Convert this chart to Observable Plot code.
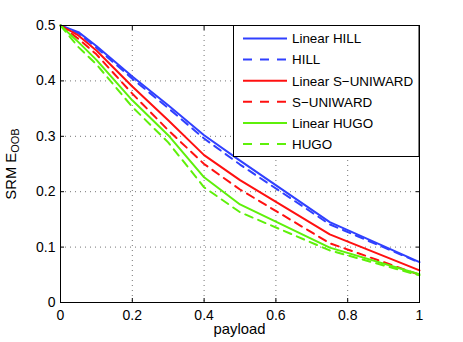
<!DOCTYPE html>
<html>
<head>
<meta charset="utf-8">
<script src="https://cdn.jsdelivr.net/npm/d3@7"></script>
<script src="https://cdn.jsdelivr.net/npm/@observablehq/plot@0.6"></script>
<style>
  html, body { margin: 0; padding: 0; background: white; }
  #chart svg { display: block; }
</style>
</head>
<body>
<div id="chart"></div>
<script>
const payload = [0, 0.05, 0.1, 0.2, 0.3, 0.4, 0.5, 0.75, 1];
const linearHILL     = [0.5, 0.488, 0.463, 0.408, 0.356, 0.302, 0.256, 0.145, 0.073];
const HILL           = [0.5, 0.486, 0.460, 0.404, 0.351, 0.296, 0.249, 0.141, 0.072];
const linearSUNIWARD = [0.5, 0.482, 0.455, 0.390, 0.329, 0.266, 0.221, 0.123, 0.058];
const SUNIWARD       = [0.5, 0.476, 0.448, 0.377, 0.311, 0.250, 0.204, 0.107, 0.050];
const linearHUGO     = [0.5, 0.470, 0.438, 0.365, 0.302, 0.226, 0.177, 0.099, 0.051];
const HUGO           = [0.5, 0.461, 0.430, 0.353, 0.289, 0.208, 0.163, 0.094, 0.049];

const seriesNames = ["Linear HILL", "HILL", "Linear S\u2212UNIWARD", "S\u2212UNIWARD", "Linear HUGO", "HUGO"];
const seriesValues = [linearHILL, HILL, linearSUNIWARD, SUNIWARD, linearHUGO, HUGO];
const seriesColors = ["#3040ff", "#3040ff", "#ff1010", "#ff1010", "#5ef00a", "#5ef00a"];
const seriesDashed = [false, true, false, true, false, true];

const xTicks = [0, 0.2, 0.4, 0.6, 0.8, 1];
const yTicks = [0, 0.1, 0.2, 0.3, 0.4, 0.5];
const xLabel = "payload";

const rows = [];
seriesNames.forEach((name, i) => {
  payload.forEach((p, j) => rows.push({series: name, x: p, y: seriesValues[i][j]}));
});

const font = "'Liberation Sans', Arial, Helvetica, sans-serif";
const dash = "8,6";

const marks = [
  Plot.gridX(xTicks, {stroke: "#000", strokeOpacity: 0.55, strokeDasharray: "1,4"}),
  Plot.gridY(yTicks, {stroke: "#000", strokeOpacity: 0.55, strokeDasharray: "1,4"})
];
seriesNames.forEach((name, i) => {
  marks.push(Plot.line(rows.filter(r => r.series === name), {
    x: "x", y: "y", stroke: seriesColors[i], strokeWidth: 2,
    strokeDasharray: seriesDashed[i] ? dash : null
  }));
});
marks.push(
  Plot.frame({stroke: "#000", strokeWidth: 1}),
  Plot.axisX(xTicks, {anchor: "bottom", tickSize: -4, tickPadding: 12, tickFormat: d => String(d), label: null, fontSize: 14}),
  Plot.axisX(xTicks, {anchor: "top", tickSize: -4, tickFormat: () => "", label: null}),
  Plot.axisY(yTicks, {anchor: "left", tickSize: -4, tickPadding: 9, tickFormat: d => String(d), label: null, fontSize: 14}),
  Plot.axisY(yTicks, {anchor: "right", tickSize: -4, tickFormat: () => "", label: null})
);

const chart = Plot.plot({
  width: 463, height: 342,
  marginLeft: 60, marginRight: 44, marginTop: 25, marginBottom: 40,
  style: {fontFamily: font, fontSize: "13px", background: "white", color: "#000"},
  x: {domain: [0, 1]},
  y: {domain: [0, 0.5]},
  marks
});

const svg = d3.select(chart);

// x label
svg.append("text")
  .attr("x", 239.5).attr("y", 334)
  .attr("text-anchor", "middle")
  .attr("font-family", font).attr("font-size", 14.8).attr("fill", "#000")
  .text(xLabel);

// y label with subscript
const yl = svg.append("text")
  .attr("transform", "translate(16,164) rotate(-90)")
  .attr("text-anchor", "middle")
  .attr("font-family", font).attr("font-size", 14.8).attr("fill", "#000");
yl.append("tspan").text("SRM E");
yl.append("tspan").attr("dy", 3).attr("font-size", 11).text("OOB");

// legend
const lg = svg.append("g");
lg.append("rect")
  .attr("x", 233.5).attr("y", 25.5).attr("width", 185.5).attr("height", 131)
  .attr("fill", "white").attr("stroke", "#000").attr("stroke-width", 1);
seriesNames.forEach((name, i) => {
  const yy = 38.5 + i * 21.1;
  lg.append("line")
    .attr("x1", 243).attr("x2", 287).attr("y1", yy).attr("y2", yy)
    .attr("stroke", seriesColors[i]).attr("stroke-width", 2)
    .attr("stroke-dasharray", seriesDashed[i] ? "9,8" : null);
  lg.append("text")
    .attr("x", 292).attr("y", yy).attr("dy", "0.36em")
    .attr("text-anchor", "start")
    .attr("font-family", font).attr("font-size", 13.4).attr("fill", "#000")
    .text(name);
});

document.getElementById("chart").appendChild(chart);
</script>
</body>
</html>
